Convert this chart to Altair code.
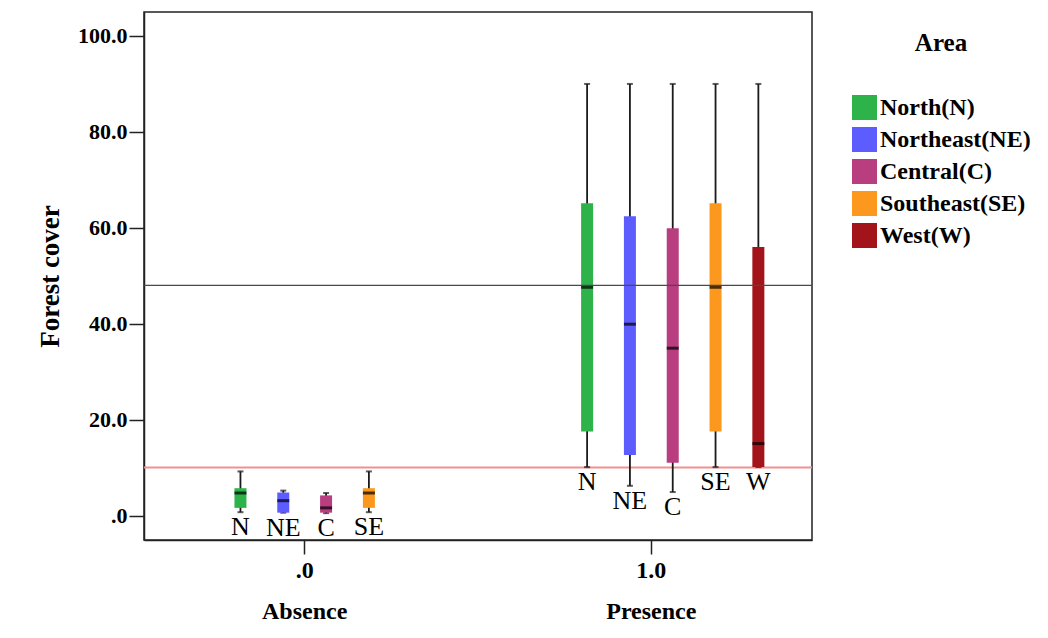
import altair as alt
import pandas as pd

# ---------------- data ----------------
groups = ["Absence", "Absence", "Absence", "Absence",
          "Presence", "Presence", "Presence", "Presence", "Presence"]
areas = ["N", "NE", "C", "SE", "N", "NE", "C", "SE", "W"]
lower = [0.7, 0.6, 0.5, 0.7, 10.1, 6.2, 4.9, 10.1, 10.1]
q1 = [1.6, 0.6, 0.6, 1.6, 17.5, 12.6, 11.0, 17.5, 10.1]
median = [4.7, 3.1, 1.6, 4.7, 47.6, 39.9, 34.9, 47.6, 15.0]
q3 = [5.7, 4.8, 4.2, 5.7, 65.1, 62.4, 59.9, 65.1, 56.0]
upper = [9.2, 5.2, 4.7, 9.2, 90.0, 90.0, 90.0, 90.0, 90.0]

group_names = ["Absence", "Presence"]
group_codes = [".0", "1.0"]
area_codes = ["N", "NE", "C", "SE", "W"]
area_names = ["North", "Northeast", "Central", "Southeast", "West"]
area_colors = ["#2EB24A", "#5C5CFF", "#B93E80", "#FC981E", "#A2141A"]
y_ticks = [0, 20, 40, 60, 80, 100]
ref_values = [48.0, 10.0]
ref_colors = ["#4a4a4a", "#F29090"]
ref_widths = [1.3, 2.0]

df = pd.DataFrame({"group": groups, "area": areas, "lower": lower, "q1": q1,
                   "median": median, "q3": q3, "upper": upper})

FONT = "Liberation Serif"

# label expressions built from the arrays
x_label_expr = " : ".join(
    [f"datum.value == '{n}' ? ['{c}', '{n}']" for n, c in zip(group_names[:-1], group_codes[:-1])]
    + [f"['{group_codes[-1]}', '{group_names[-1]}']"])
legend_label_expr = " : ".join(
    [f"datum.label == '{c}' ? '{n}({c})'" for c, n in zip(area_codes[:-1], area_names[:-1])]
    + [f"'{area_names[-1]}({area_codes[-1]})'"])

x_enc = alt.X("group:N",
              scale=alt.Scale(domain=group_names, paddingInner=0.259, paddingOuter=0.093),
              axis=alt.Axis(labelExpr=x_label_expr, labelAngle=0, labelFont=FONT,
                            labelFontSize=24, labelFontWeight="bold", labelColor="black",
                            labelLineHeight=41, labelPadding=4, tickSize=14, tickWidth=1.5,
                            tickColor="#222", domainColor="#222", domainWidth=1.5),
              title=None)
xo_enc = alt.XOffset("area:N",
                     scale=alt.Scale(domain=area_codes, paddingInner=0, paddingOuter=0.5, align=1))
y_scale = alt.Scale(domain=[-5.1, 105.0], nice=False, zero=False)
y_axis = alt.Axis(values=y_ticks,
                  labelExpr="datum.value == 0 ? '.0' : format(datum.value, '.1f')",
                  grid=False, tickSize=15, tickWidth=1.5, tickColor="#222",
                  domainColor="#222", domainWidth=1.5,
                  labelFont=FONT, labelFontSize=22, labelFontWeight="bold",
                  labelColor="black", labelPadding=2,
                  title="Forest cover", titleFont=FONT, titleFontSize=27,
                  titleFontWeight="bold", titleColor="black", titlePadding=13)

base = alt.Chart(df)

whiskers = base.mark_rule(color="#1a1a1a", strokeWidth=1.8).encode(
    x=x_enc, xOffset=xo_enc,
    y=alt.Y("lower:Q", scale=y_scale, axis=y_axis),
    y2="upper:Q")

cap_hi = base.mark_tick(orient="horizontal", size=6, thickness=2, color="#1a1a1a").encode(
    x=x_enc, xOffset=xo_enc, y=alt.Y("upper:Q", scale=y_scale))
cap_lo = base.mark_tick(orient="horizontal", size=6, thickness=2, color="#1a1a1a").encode(
    x=x_enc, xOffset=xo_enc, y=alt.Y("lower:Q", scale=y_scale))

boxes = base.mark_bar(size=12).encode(
    x=x_enc, xOffset=xo_enc,
    y=alt.Y("q1:Q", scale=y_scale),
    y2="q3:Q",
    color=alt.Color("area:N",
                    scale=alt.Scale(domain=area_codes, range=area_colors),
                    legend=alt.Legend(title="Area", orient="none", legendX=708, legendY=19,
                                      symbolType="square", symbolSize=625,
                                      symbolStrokeWidth=0, symbolOpacity=1,
                                      labelExpr=legend_label_expr, labelFont=FONT,
                                      labelFontSize=24, labelFontWeight="bold",
                                      labelColor="black", labelLimit=300, labelOffset=3,
                                      titleFont=FONT, titleFontSize=25, titleFontWeight="bold",
                                      titleColor="black", titleAnchor="middle",
                                      titlePadding=39, rowPadding=7, padding=0)))

medians = base.mark_tick(orient="horizontal", size=12, thickness=3, color="black").encode(
    x=x_enc, xOffset=xo_enc, y=alt.Y("median:Q", scale=y_scale))

labels = base.mark_text(baseline="top", dy=2, font=FONT, fontSize=26, color="black").encode(
    x=x_enc, xOffset=xo_enc, y=alt.Y("lower:Q", scale=y_scale), text="area:N")

refs = [alt.Chart(pd.DataFrame({"v": [v]})).mark_rule(color=c, strokeWidth=w).encode(
            y=alt.Y("v:Q", scale=y_scale))
        for v, c, w in zip(ref_values, ref_colors, ref_widths)]

chart = alt.layer(refs[1], whiskers, cap_hi, cap_lo, boxes, medians, labels, refs[0]).properties(
    width=668, height=528,
    autosize=alt.AutoSizeParams(type="none"),
    padding={"left": 136, "top": 4, "right": 228, "bottom": 88},
    background="white",
).configure_view(stroke="#222", strokeWidth=1.5)

chart.save("out.html", embed_options={"renderer": "svg", "actions": False})
